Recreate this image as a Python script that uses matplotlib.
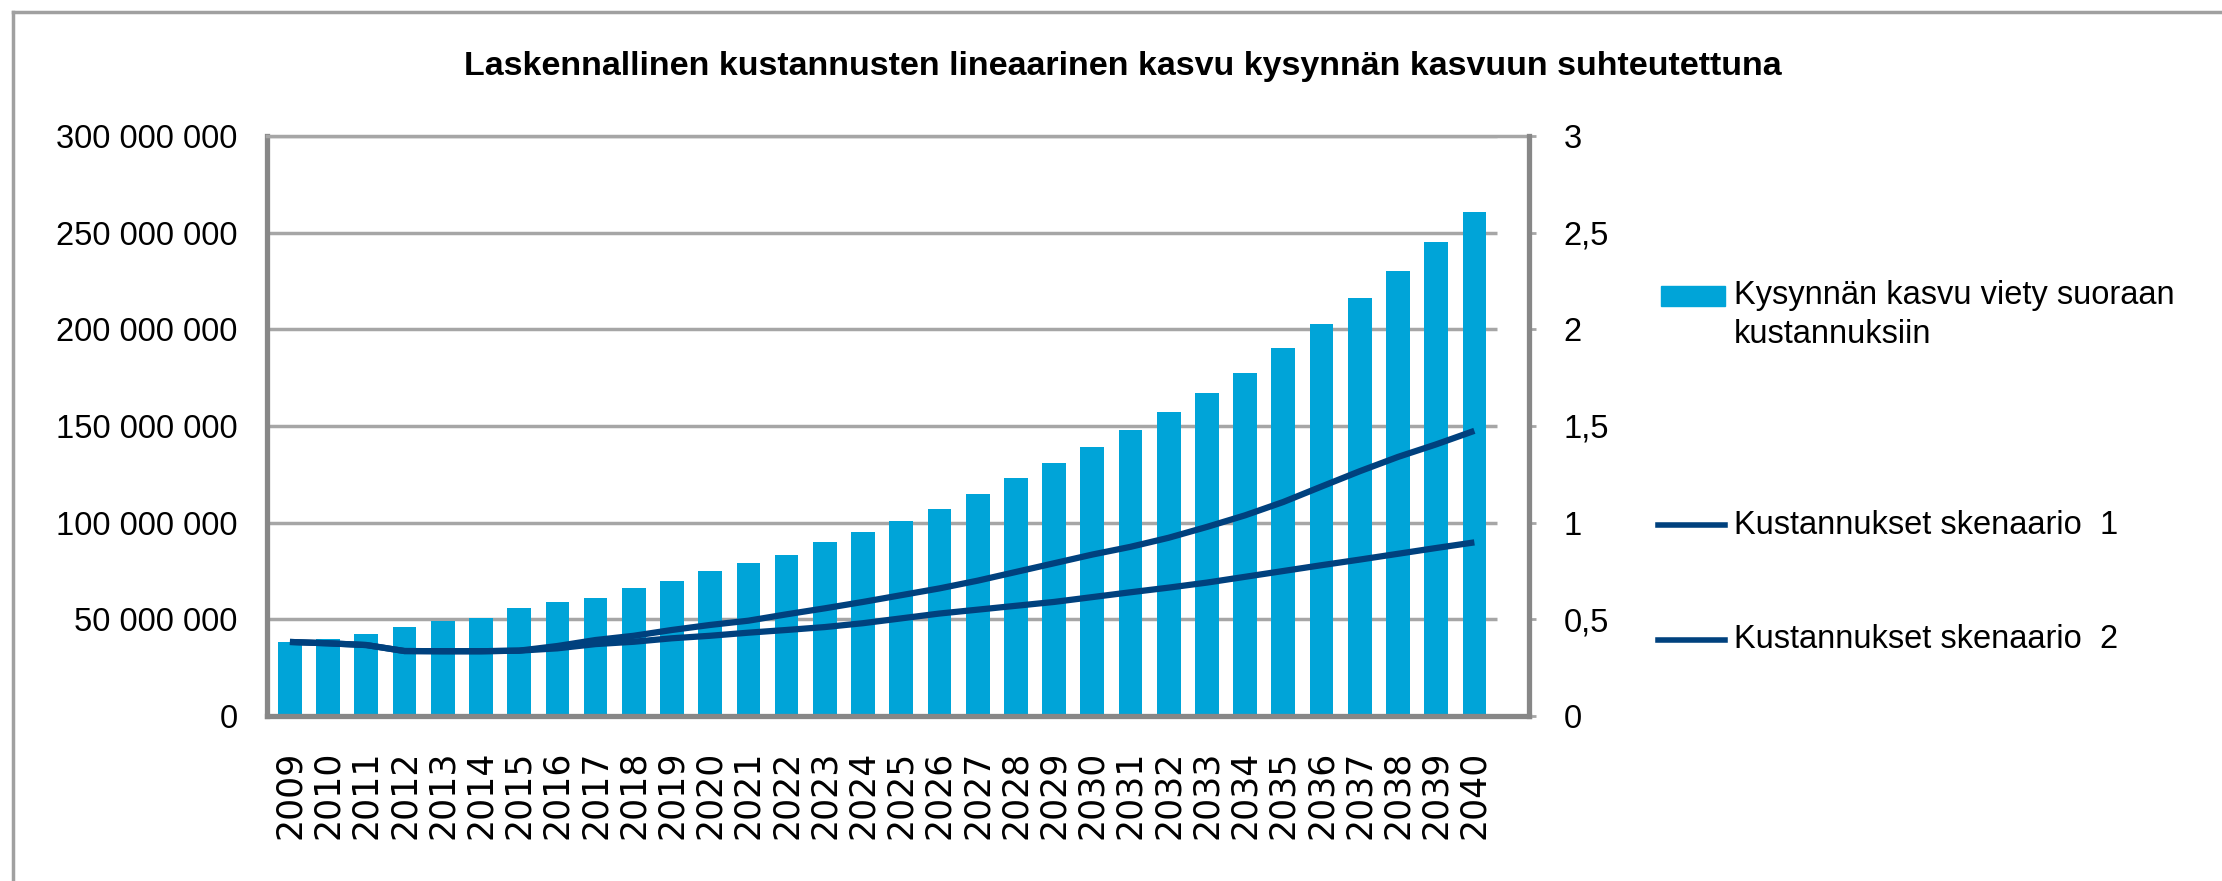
import matplotlib
matplotlib.use("Agg")
import matplotlib.pyplot as plt
from matplotlib.lines import Line2D
from matplotlib.patches import Rectangle
from matplotlib.ticker import FuncFormatter, MultipleLocator

# data
years = [str(y) for y in range(2009, 2041)]
demand_growth_m = [38.1, 39.7, 42.6, 45.9, 49.3, 50.9, 56.0, 59.0, 61.2, 66.4,
                   69.7, 74.8, 79.0, 83.3, 90.0, 95.0, 101.0, 107.0, 115.0, 123.0,
                   131.0, 139.0, 148.0, 157.4, 166.9, 177.2, 190.6, 202.7, 216.0,
                   230.2, 245.1, 260.6]
scenario_1 = [0.383, 0.376, 0.367, 0.336, 0.335, 0.335, 0.338, 0.362, 0.393, 0.415,
              0.445, 0.471, 0.493, 0.526, 0.557, 0.59, 0.625, 0.66, 0.70, 0.745,
              0.79, 0.835, 0.875, 0.922, 0.978, 1.038, 1.107, 1.187, 1.266, 1.34,
              1.405, 1.475]
scenario_2 = [0.383, 0.376, 0.367, 0.336, 0.335, 0.335, 0.338, 0.350, 0.372, 0.384,
              0.402, 0.415, 0.431, 0.445, 0.460, 0.48, 0.505, 0.53, 0.55, 0.57,
              0.59, 0.615, 0.64, 0.664, 0.690, 0.72, 0.75, 0.78, 0.809, 0.839,
              0.869, 0.898]

title = "Laskennallinen kustannusten lineaarinen kasvu kysynnän kasvuun suhteutettuna"
label_bars = "Kysynnän kasvu viety suoraan\nkustannuksiin"
label_s1 = "Kustannukset skenaario  1"
label_s2 = "Kustannukset skenaario  2"

BAR = "#00A4D8"
NAVY = "#00417E"
GRID = "#A6A6A6"
SPINE = "#878787"

plt.rcParams["font.family"] = ["Liberation Sans", "DejaVu Sans"]

W, H = 2222, 881
fig = plt.figure(figsize=(W / 100, H / 100), dpi=100)


def fx(px):
    return px / W


def fy(px):
    return 1 - px / H


ax = fig.add_axes([fx(267), fy(716), fx(1529) - fx(267), fy(136) - fy(716)])
x = list(range(len(years)))
demand = [v * 1e6 for v in demand_growth_m]

ax.bar(x, demand, width=0.62, color=BAR, zorder=2)
ax.set_xlim(-0.6, 32.43)
ax.set_ylim(0, 300e6)
ax.yaxis.set_major_locator(MultipleLocator(50e6))
ax.yaxis.set_major_formatter(FuncFormatter(lambda v, p: f"{int(v):,}".replace(",", " ")))
for t in ax.get_yticks()[1:-1]:
    ax.hlines(t, -0.6, len(years) - 0.4, color=GRID, lw=2.5, zorder=1)

ax.set_xticks(x)
ax.set_xticklabels(years, rotation=90, fontsize=25, family="DejaVu Sans")
ax.tick_params(axis="x", length=0, pad=25)
ax.tick_params(axis="y", length=0, pad=21, labelsize=23.5)

for side in ["left", "bottom"]:
    ax.spines[side].set_color(SPINE)
    ax.spines[side].set_linewidth(3.8)
ax.spines["top"].set_color(GRID)
ax.spines["top"].set_linewidth(2.5)
ax.spines["right"].set_visible(False)

ax2 = ax.twinx()
ax2.plot(x, scenario_1, color=NAVY, lw=4.5, solid_capstyle="butt")
ax2.plot(x, scenario_2, color=NAVY, lw=4.5, solid_capstyle="butt")
ax2.set_ylim(0, 3)
ax2.yaxis.set_major_locator(MultipleLocator(0.5))
ax2.yaxis.set_major_formatter(FuncFormatter(lambda v, p: f"{v:g}".replace(".", ",")))
ax2.tick_params(axis="y", direction="out", length=5, width=2, color=GRID, pad=20, labelsize=23.5)
for side in ["left", "bottom", "top"]:
    ax2.spines[side].set_visible(False)
ax2.spines["right"].set_color(SPINE)
ax2.spines["right"].set_linewidth(3.8)

fig.text(fx(1123), fy(67), title, ha="center", va="center", fontsize=24.5, fontweight="bold")

# legend drawn by hand to keep the uneven spacing of the original
fig.patches.append(Rectangle((fx(1661), fy(306)), fx(1725) - fx(1661), fy(286) - fy(306),
                             transform=fig.transFigure, color=BAR))
fig.text(fx(1734), fy(280), label_bars, ha="left", va="top", fontsize=23.5, linespacing=1.35)
for ypx, lab in [(525, label_s1), (640, label_s2)]:
    fig.lines.append(Line2D([fx(1658), fx(1725)], [fy(ypx), fy(ypx)],
                            transform=fig.transFigure, color=NAVY, lw=4))
    fig.text(fx(1734), fy(ypx), lab, ha="left", va="center", fontsize=23.5)

# outer frame (left and top edges)
fig.lines.append(Line2D([fx(13), fx(13)], [0, fy(12)], transform=fig.transFigure, color="#A0A0A0", lw=2.5))
fig.lines.append(Line2D([fx(13), 1], [fy(12), fy(12)], transform=fig.transFigure, color="#A0A0A0", lw=2.5))

fig.savefig("out.png", dpi=100)
